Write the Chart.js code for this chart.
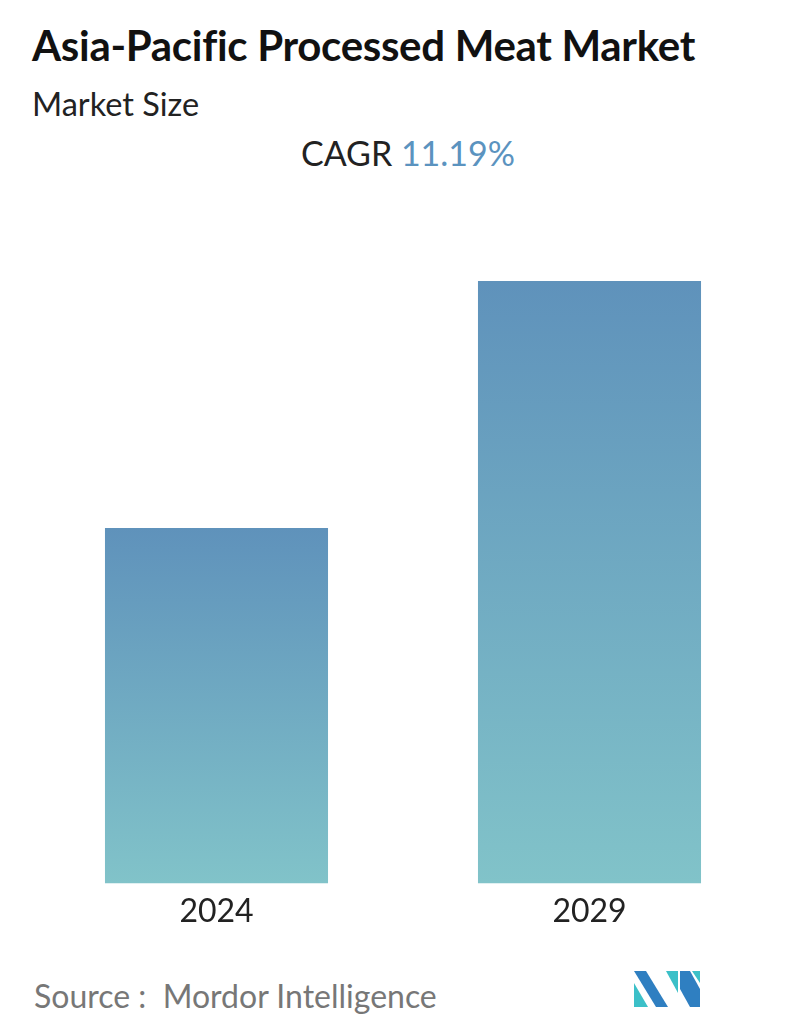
<!DOCTYPE html>
<html>
<head>
<meta charset="utf-8">
<script src="https://cdn.jsdelivr.net/npm/chart.js@4"></script>
<style>
  body { margin: 0; width: 796px; height: 1034px; background: #fff; font-family: "Lato", sans-serif; position: relative; overflow: hidden; }
  .title { position: absolute; left: 32px; top: 20px; font-size: 42px; font-weight: 700; color: #111; letter-spacing: -0.3px; }
  .sub { position: absolute; left: 32px; top: 84px; font-size: 32.5px; color: #222; }
  .cagr { position: absolute; left: 0; width: 816px; text-align: center; top: 132px; font-size: 34px; color: #222; }
  .cagr span { color: #5b93bf; }
  .source { position: absolute; left: 34px; top: 976px; font-size: 32px; color: #777; }
  #wrap { position: absolute; left: 0; top: 240px; width: 796px; height: 700px; }
  .logo { position: absolute; left: 634px; top: 971px; }
</style>
</head>
<body>
<div class="title">Asia-Pacific Processed Meat Market</div>
<div class="sub">Market Size</div>
<div class="cagr">CAGR <span>11.19%</span></div>
<div id="wrap"><canvas id="chart"></canvas></div>
<div class="source">Source :&nbsp; Mordor Intelligence</div>
<svg class="logo" width="66" height="36" viewBox="0 0 66 36">
  <polygon points="0,0 12,0 34,36 22,36" fill="#2f7fc1"/>
  <polygon points="0,12 0,36 14,36" fill="#3cc0c8"/>
  <polygon points="32,0 44,0 44,22" fill="#3cc0c8"/>
  <polygon points="46,0 56,0 66,18 66,36 56,36 46,18" fill="#2f7fc1"/>
  <polygon points="58,0 66,0 66,12" fill="#3cc0c8"/>
</svg>
<script>
// Datos del gráfico
const years = ["2024", "2029"];
const marketSize = [59, 100];

const ctx = document.getElementById("chart").getContext("2d");
new Chart(ctx, {
  type: "bar",
  data: {
    labels: years,
    datasets: [{
      data: marketSize,
      // Degradado vertical para cada barra
      backgroundColor: function (context) {
        const chart = context.chart;
        const area = chart.chartArea;
        if (!area) return "#6fa6c2";
        const top = chart.scales.y.getPixelForValue(context.raw);
        const g = chart.ctx.createLinearGradient(0, top, 0, area.bottom);
        g.addColorStop(0, "#5f92bb");
        g.addColorStop(1, "#81c3c9");
        return g;
      },
      categoryPercentage: 1,
      barPercentage: 0.598,
    }],
  },
  options: {
    responsive: true,
    maintainAspectRatio: false,
    animation: false,
    layout: { padding: { left: 30, right: 20, top: 41, bottom: 0 } },
    plugins: { legend: { display: false }, tooltip: { enabled: false } },
    scales: {
      y: { display: false, min: 0, max: 100 },
      x: {
        grid: { display: false, drawTicks: false },
        border: { display: false },
        ticks: { color: "#222", font: { family: "Lato", size: 32 }, padding: 9 },
      },
    },
  },
});
</script>
</body>
</html>
